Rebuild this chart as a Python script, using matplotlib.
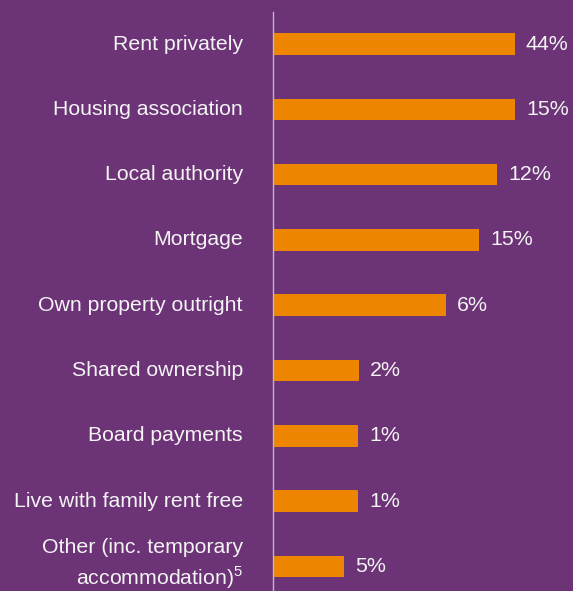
import matplotlib.pyplot as plt

categories = ["Rent privately", "Housing association", "Local authority", "Mortgage",
              "Own property outright", "Shared ownership", "Board payments",
              "Live with family rent free", "Other (inc. temporary\naccommodation)$^5$"]
# bar lengths as drawn (pixels from axis), labels as printed
bar_len = [241, 241, 223, 205, 172, 85, 84, 84, 70]
pct_labels = ["44%", "15%", "12%", "15%", "6%", "2%", "1%", "1%", "5%"]

bg = '#6C3377'
orange = '#EE8500'
txt = '#F4F4F4'

plt.rcParams['font.family'] = ['Liberation Sans', 'DejaVu Sans']
plt.rcParams['mathtext.fontset'] = 'custom'
plt.rcParams['mathtext.rm'] = 'Liberation Sans'

fig = plt.figure(figsize=(5.73, 5.91), dpi=100, facecolor=bg)
W, H = 573.0, 591.0
ax = fig.add_axes([273 / W, 0, 1 - 273 / W, (H - 12) / H])
ax.set_facecolor(bg)

step = 65.3
y0 = 44.0
pos = list(range(len(categories)))
ax.barh(pos, bar_len, height=21.5 / step, color=orange, left=1)

ax.set_xlim(0, 300)
ax.set_ylim((H - y0) / step, (12 - y0) / step)

for i, (v, lab) in enumerate(zip(bar_len, pct_labels)):
    ax.text(v + 12, i, lab, color=txt, fontsize=15.4, va='center', ha='left')

for i, c in enumerate(categories):
    ax.annotate(c, xy=(0, i), xycoords=('axes fraction', 'data'),
                xytext=(-30, 2 if i == len(categories) - 1 else 0), textcoords='offset pixels',
                color=txt, fontsize=15.3, va='center', ha='right', linespacing=1.33)

for s in ['top', 'right', 'bottom']:
    ax.spines[s].set_visible(False)
ax.spines['left'].set_color('#BBBBBB')
ax.spines['left'].set_linewidth(1.0)
ax.set_xticks([])
ax.set_yticks([])

fig.savefig('out.png', dpi=100, facecolor=bg)
